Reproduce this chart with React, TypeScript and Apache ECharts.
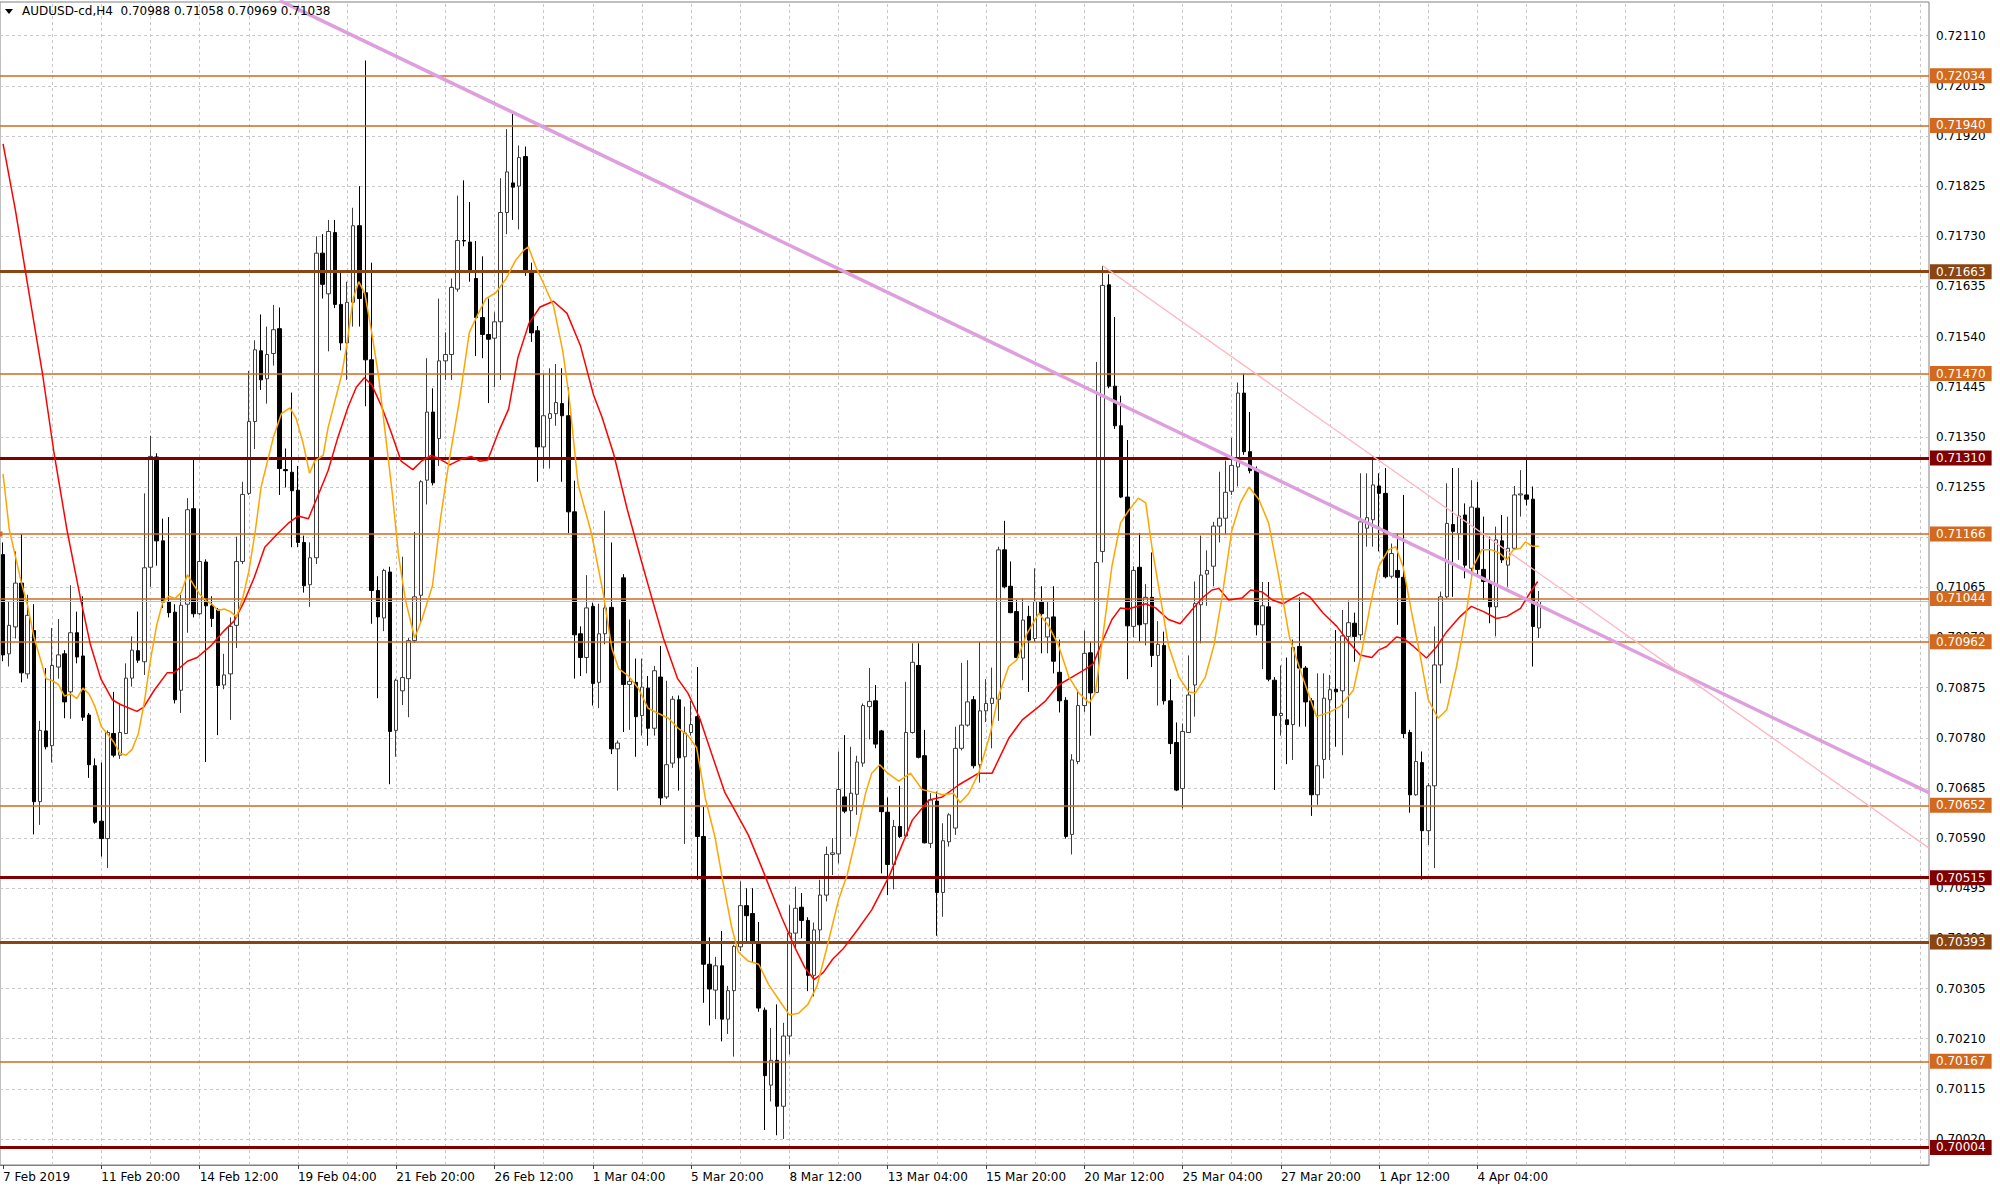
import React, { useEffect, useRef } from 'react';
import * as echarts from 'echarts';

const symbolName = 'AUDUSD-cd,H4';
const timeLabels = ['7 Feb 2019', '11 Feb 20:00', '14 Feb 12:00', '19 Feb 04:00', '21 Feb 20:00', '26 Feb 12:00', '1 Mar 04:00', '5 Mar 20:00', '8 Mar 12:00', '13 Mar 04:00', '15 Mar 20:00', '20 Mar 12:00', '25 Mar 04:00', '27 Mar 20:00', '1 Apr 12:00', '4 Apr 04:00'];

// [open, high, low, close]
const ohlc: number[][] = [
  [0.71127, 0.71150, 0.70925, 0.70937], [0.70939, 0.71038, 0.70915, 0.70993], [0.70990, 0.71133, 0.70968, 0.71073], [0.71073, 0.71166, 0.70885, 0.70903],
  [0.70901, 0.71051, 0.70892, 0.71012], [0.70983, 0.71033, 0.70597, 0.70659], [0.70659, 0.70812, 0.70615, 0.70794], [0.70793, 0.70912, 0.70758, 0.70763],
  [0.70765, 0.70988, 0.70733, 0.70917], [0.70914, 0.71005, 0.70892, 0.70937], [0.70939, 0.70946, 0.70817, 0.70848], [0.70867, 0.71069, 0.70816, 0.70979],
  [0.70979, 0.71019, 0.70921, 0.70933], [0.70935, 0.71048, 0.70812, 0.70819], [0.70823, 0.70827, 0.70704, 0.70729], [0.70727, 0.70741, 0.70617, 0.70620],
  [0.70622, 0.70733, 0.70555, 0.70589], [0.70589, 0.70794, 0.70533, 0.70790], [0.70788, 0.70867, 0.70743, 0.70747], [0.70747, 0.70845, 0.70740, 0.70790],
  [0.70788, 0.70921, 0.70787, 0.70893], [0.70893, 0.70972, 0.70877, 0.70946], [0.70945, 0.71019, 0.70922, 0.70927], [0.70924, 0.71243, 0.70899, 0.71102],
  [0.71103, 0.71352, 0.71066, 0.71313], [0.71312, 0.71319, 0.71106, 0.71153], [0.71153, 0.71195, 0.71026, 0.71037], [0.71038, 0.71198, 0.71008, 0.71017],
  [0.71018, 0.71033, 0.70845, 0.70852], [0.70870, 0.71051, 0.70827, 0.71031], [0.71033, 0.71234, 0.70979, 0.71212], [0.71214, 0.71308, 0.71008, 0.71015],
  [0.71015, 0.71214, 0.71012, 0.71114], [0.71113, 0.71118, 0.70734, 0.71030], [0.71030, 0.71048, 0.70990, 0.71006], [0.71022, 0.71026, 0.70785, 0.70879],
  [0.70880, 0.70939, 0.70872, 0.70899], [0.70901, 0.71008, 0.70814, 0.70991], [0.70993, 0.71161, 0.70950, 0.71114], [0.71114, 0.71265, 0.71109, 0.71241],
  [0.71243, 0.71475, 0.71240, 0.71379], [0.71379, 0.71533, 0.71327, 0.71515], [0.71513, 0.71582, 0.71439, 0.71458], [0.71460, 0.71559, 0.71413, 0.71506],
  [0.71508, 0.71600, 0.71485, 0.71553], [0.71555, 0.71595, 0.71240, 0.71290], [0.71288, 0.71328, 0.71254, 0.71286], [0.71283, 0.71434, 0.71141, 0.71248],
  [0.71249, 0.71295, 0.71141, 0.71150], [0.71150, 0.71163, 0.71055, 0.71068], [0.71070, 0.71150, 0.71028, 0.71121], [0.71121, 0.71730, 0.71109, 0.71698],
  [0.71698, 0.71734, 0.71612, 0.71639], [0.71621, 0.71761, 0.71512, 0.71739], [0.71737, 0.71761, 0.71594, 0.71601], [0.71601, 0.71666, 0.71514, 0.71528],
  [0.71528, 0.71644, 0.71458, 0.71605], [0.71605, 0.71784, 0.71559, 0.71750], [0.71750, 0.71825, 0.71559, 0.71612], [0.71623, 0.72063, 0.71408, 0.71496],
  [0.71496, 0.71680, 0.70996, 0.71059], [0.71059, 0.71086, 0.70855, 0.71009], [0.71007, 0.71100, 0.70982, 0.71097], [0.71094, 0.71104, 0.70692, 0.70792],
  [0.70794, 0.70892, 0.70744, 0.70889], [0.70869, 0.71123, 0.70842, 0.70894], [0.70892, 0.70969, 0.70819, 0.70964], [0.70964, 0.71170, 0.70960, 0.71047],
  [0.71050, 0.71268, 0.71000, 0.71265], [0.71268, 0.71499, 0.71222, 0.71397], [0.71397, 0.71442, 0.71258, 0.71263], [0.71347, 0.71612, 0.71295, 0.71494],
  [0.71494, 0.71548, 0.71458, 0.71506], [0.71506, 0.71650, 0.71458, 0.71633], [0.71630, 0.71807, 0.71625, 0.71722], [0.71722, 0.71836, 0.71711, 0.71721],
  [0.71719, 0.71795, 0.71644, 0.71666], [0.71650, 0.71721, 0.71503, 0.71576], [0.71576, 0.71692, 0.71499, 0.71544], [0.71544, 0.71612, 0.71414, 0.71535],
  [0.71537, 0.71586, 0.71444, 0.71568], [0.71568, 0.71840, 0.71458, 0.71775], [0.71775, 0.71933, 0.71734, 0.71852], [0.71831, 0.71965, 0.71761, 0.71823],
  [0.71825, 0.71902, 0.71743, 0.71879], [0.71881, 0.71900, 0.71655, 0.71665], [0.71665, 0.71680, 0.71530, 0.71547], [0.71551, 0.71560, 0.71265, 0.71331],
  [0.71331, 0.71470, 0.71290, 0.71390], [0.71385, 0.71480, 0.71290, 0.71394], [0.71394, 0.71488, 0.71371, 0.71415], [0.71413, 0.71480, 0.71265, 0.71390],
  [0.71390, 0.71444, 0.71168, 0.71208], [0.71208, 0.71267, 0.70892, 0.70975], [0.70977, 0.70991, 0.70897, 0.70932], [0.70932, 0.71088, 0.70902, 0.71026],
  [0.71029, 0.71036, 0.70841, 0.70883], [0.70885, 0.71034, 0.70836, 0.70977], [0.70977, 0.71210, 0.70957, 0.71026], [0.71027, 0.71150, 0.70749, 0.70759],
  [0.70759, 0.70775, 0.70680, 0.70770], [0.71083, 0.71090, 0.70791, 0.70881], [0.70881, 0.71004, 0.70795, 0.70887], [0.70885, 0.70930, 0.70744, 0.70820],
  [0.70822, 0.70930, 0.70784, 0.70876], [0.70874, 0.70897, 0.70765, 0.70798], [0.70798, 0.70916, 0.70784, 0.70907], [0.70895, 0.70954, 0.70652, 0.70666],
  [0.70668, 0.70888, 0.70664, 0.70729], [0.70732, 0.70859, 0.70723, 0.70853], [0.70852, 0.70860, 0.70680, 0.70742], [0.70744, 0.70839, 0.70579, 0.70789],
  [0.70790, 0.70850, 0.70784, 0.70805], [0.70820, 0.70914, 0.70511, 0.70593], [0.70593, 0.70649, 0.70278, 0.70351], [0.70351, 0.70402, 0.70235, 0.70304],
  [0.70302, 0.70365, 0.70247, 0.70348], [0.70348, 0.70414, 0.70205, 0.70247], [0.70247, 0.70310, 0.70219, 0.70301], [0.70301, 0.70388, 0.70176, 0.70385],
  [0.70384, 0.70508, 0.70376, 0.70462], [0.70462, 0.70495, 0.70395, 0.70443], [0.70447, 0.70495, 0.70355, 0.70395], [0.70393, 0.70431, 0.70261, 0.70268],
  [0.70264, 0.70269, 0.70037, 0.70140], [0.70122, 0.70230, 0.70091, 0.70169], [0.70169, 0.70275, 0.70027, 0.70082], [0.70082, 0.70240, 0.70020, 0.70215],
  [0.70215, 0.70463, 0.70180, 0.70410], [0.70410, 0.70498, 0.70380, 0.70457], [0.70459, 0.70486, 0.70400, 0.70434], [0.70434, 0.70440, 0.70300, 0.70330],
  [0.70330, 0.70430, 0.70290, 0.70416], [0.70416, 0.70511, 0.70395, 0.70482], [0.70482, 0.70574, 0.70470, 0.70559], [0.70559, 0.70590, 0.70520, 0.70562],
  [0.70560, 0.70754, 0.70542, 0.70682], [0.70668, 0.70785, 0.70637, 0.70641], [0.70642, 0.70763, 0.70593, 0.70675], [0.70673, 0.70746, 0.70634, 0.70734],
  [0.70732, 0.70845, 0.70725, 0.70841], [0.70839, 0.70912, 0.70777, 0.70849], [0.70850, 0.70880, 0.70760, 0.70768], [0.70793, 0.70795, 0.70523, 0.70640],
  [0.70639, 0.70667, 0.70482, 0.70540], [0.70540, 0.70624, 0.70493, 0.70612], [0.70612, 0.70689, 0.70590, 0.70593], [0.70594, 0.70886, 0.70593, 0.70790],
  [0.70790, 0.70959, 0.70788, 0.70923], [0.70917, 0.70959, 0.70741, 0.70743], [0.70746, 0.70795, 0.70580, 0.70581], [0.70580, 0.70675, 0.70571, 0.70662],
  [0.70660, 0.70678, 0.70405, 0.70487], [0.70487, 0.70618, 0.70441, 0.70585], [0.70583, 0.70637, 0.70574, 0.70634], [0.70609, 0.70801, 0.70596, 0.70760],
  [0.70760, 0.70922, 0.70756, 0.70804], [0.70804, 0.70927, 0.70801, 0.70848], [0.70852, 0.70859, 0.70722, 0.70727], [0.70729, 0.70962, 0.70695, 0.70831],
  [0.70831, 0.70891, 0.70810, 0.70845], [0.70845, 0.70913, 0.70760, 0.70855], [0.70853, 0.71142, 0.70812, 0.71136], [0.71136, 0.71191, 0.71063, 0.71066],
  [0.71067, 0.71114, 0.71016, 0.71017], [0.71019, 0.71041, 0.70931, 0.70932], [0.70931, 0.71044, 0.70889, 0.71003], [0.71010, 0.71030, 0.70867, 0.70965],
  [0.70968, 0.71101, 0.70962, 0.71038], [0.71037, 0.71067, 0.70940, 0.71015], [0.70971, 0.71037, 0.70940, 0.71007], [0.71009, 0.71067, 0.70902, 0.70925],
  [0.70904, 0.70966, 0.70828, 0.70850], [0.70851, 0.70857, 0.70589, 0.70593], [0.70597, 0.70749, 0.70559, 0.70738], [0.70735, 0.70871, 0.70730, 0.70841],
  [0.70841, 0.70983, 0.70829, 0.70940], [0.70941, 0.70962, 0.70784, 0.70865], [0.70866, 0.71492, 0.70865, 0.71112], [0.71133, 0.71674, 0.71112, 0.71637],
  [0.71638, 0.71658, 0.71442, 0.71446], [0.71446, 0.71577, 0.71365, 0.71371], [0.71371, 0.71428, 0.71234, 0.71236], [0.71236, 0.71344, 0.70891, 0.70992],
  [0.70991, 0.71105, 0.70970, 0.71097], [0.71103, 0.71168, 0.70962, 0.70994], [0.70996, 0.71071, 0.70955, 0.71046], [0.71046, 0.71131, 0.70914, 0.70936],
  [0.70936, 0.71001, 0.70841, 0.70957], [0.70955, 0.70981, 0.70843, 0.70850], [0.70850, 0.70891, 0.70749, 0.70769], [0.70771, 0.70809, 0.70679, 0.70681],
  [0.70684, 0.70807, 0.70646, 0.70792], [0.70790, 0.70936, 0.70789, 0.70861], [0.70880, 0.71076, 0.70820, 0.71034], [0.71032, 0.71163, 0.70959, 0.71088],
  [0.71090, 0.71135, 0.71030, 0.71097], [0.71105, 0.71189, 0.71067, 0.71181], [0.71181, 0.71284, 0.71150, 0.71196], [0.71196, 0.71305, 0.71165, 0.71245],
  [0.71247, 0.71348, 0.71240, 0.71296], [0.71293, 0.71453, 0.71256, 0.71433], [0.71433, 0.71470, 0.71316, 0.71322], [0.71322, 0.71397, 0.71281, 0.71286],
  [0.71288, 0.71294, 0.70974, 0.70994], [0.70994, 0.71075, 0.70910, 0.71030], [0.71028, 0.71075, 0.70887, 0.70891], [0.70889, 0.70895, 0.70681, 0.70822],
  [0.70822, 0.70917, 0.70784, 0.70826], [0.70814, 0.70932, 0.70730, 0.70805], [0.70805, 0.70966, 0.70738, 0.70951], [0.70953, 0.71046, 0.70801, 0.70912],
  [0.70912, 0.70916, 0.70801, 0.70848], [0.70850, 0.70855, 0.70632, 0.70672], [0.70672, 0.70902, 0.70653, 0.70727], [0.70739, 0.70902, 0.70703, 0.70855],
  [0.70852, 0.70899, 0.70738, 0.70871], [0.70872, 0.70984, 0.70763, 0.70867], [0.70869, 0.71022, 0.70747, 0.70973], [0.70972, 0.71040, 0.70817, 0.70998],
  [0.70997, 0.71017, 0.70924, 0.70972], [0.70975, 0.71281, 0.70965, 0.71189], [0.71177, 0.71281, 0.71142, 0.71197], [0.71193, 0.71313, 0.71142, 0.71259],
  [0.71257, 0.71281, 0.71133, 0.71243], [0.71243, 0.71291, 0.71082, 0.71085], [0.71086, 0.71148, 0.71082, 0.71129], [0.71097, 0.71167, 0.70994, 0.71084],
  [0.71084, 0.71240, 0.70779, 0.70788], [0.70790, 0.70795, 0.70638, 0.70672], [0.70672, 0.70867, 0.70670, 0.70735], [0.70733, 0.70754, 0.70511, 0.70604],
  [0.70604, 0.70694, 0.70577, 0.70689], [0.70689, 0.70991, 0.70533, 0.70918], [0.70918, 0.71057, 0.70883, 0.71047], [0.71047, 0.71262, 0.71044, 0.71186],
  [0.71184, 0.71291, 0.71047, 0.71171], [0.71167, 0.71291, 0.71117, 0.71200], [0.71202, 0.71224, 0.71082, 0.71107], [0.71101, 0.71268, 0.71085, 0.71217],
  [0.71215, 0.71265, 0.71085, 0.71099], [0.71099, 0.71199, 0.71041, 0.71076], [0.71076, 0.71161, 0.70997, 0.71028], [0.71028, 0.71180, 0.70972, 0.71155],
  [0.71153, 0.71202, 0.71111, 0.71117], [0.71107, 0.71199, 0.71066, 0.71139], [0.71139, 0.71257, 0.71136, 0.71240], [0.71240, 0.71287, 0.71199, 0.71242],
  [0.71240, 0.71309, 0.71220, 0.71232], [0.71232, 0.71256, 0.70915, 0.70991], [0.70988, 0.71058, 0.70969, 0.71038],
];

// fast moving average (orange), [bar index, price]
const maFast: number[][] = [
  [0, 0.71280], [1, 0.71175], [2, 0.71124], [3, 0.71073], [4, 0.71030], [5, 0.70972], [6, 0.70932], [7, 0.70892], [8, 0.70888], [9, 0.70881],
  [10, 0.70859], [11, 0.70863], [12, 0.70854], [13, 0.70874], [14, 0.70863], [15, 0.70838], [16, 0.70801], [17, 0.70787], [18, 0.70772], [19, 0.70751],
  [20, 0.70747], [21, 0.70758], [22, 0.70787], [23, 0.70848], [24, 0.70928], [25, 0.70993], [26, 0.71037], [27, 0.71048], [28, 0.71044], [29, 0.71055],
  [30, 0.71089], [31, 0.71070], [32, 0.71052], [33, 0.71040], [34, 0.71033], [35, 0.71021], [36, 0.71024], [37, 0.71019], [38, 0.71009], [39, 0.71044],
  [40, 0.71095], [41, 0.71167], [42, 0.71255], [44, 0.71349], [45.3, 0.71394], [46.7, 0.71405], [47.7, 0.71385], [48.8, 0.71340], [49.9, 0.71281],
  [50.7, 0.71304], [52.1, 0.71315], [52.9, 0.71367], [54, 0.71417], [55.1, 0.71467], [55.9, 0.71521], [57, 0.71612], [57.9, 0.71644], [58.9, 0.71621],
  [60, 0.71548], [61.1, 0.71467], [62.2, 0.71358], [63.3, 0.71249], [64.4, 0.71123], [65.5, 0.71041], [67, 0.70969], [68.2, 0.71005], [69.9, 0.71068],
  [71.2, 0.71195], [72.6, 0.71304], [74.2, 0.71413], [75.9, 0.71548], [77.2, 0.71580], [78.6, 0.71612], [80.2, 0.71623], [81.8, 0.71648], [83.4, 0.71684],
  [84.8, 0.71704], [85.5, 0.71710], [86.8, 0.71670], [88, 0.71640], [89.6, 0.71598], [91.1, 0.71513], [92.1, 0.71430], [93.6, 0.71260], [95.8, 0.71166],
  [97.7, 0.71053], [99.1, 0.70949], [100.2, 0.70911], [101.8, 0.70897], [103.4, 0.70874], [105, 0.70836], [106.7, 0.70826], [108.3, 0.70817],
  [109.9, 0.70798], [111.5, 0.70784], [112.9, 0.70761], [114.3, 0.70666], [115.9, 0.70591], [117.2, 0.70506], [118.6, 0.70421], [119.7, 0.70374],
  [121.3, 0.70357], [123, 0.70351], [124.6, 0.70313], [126.5, 0.70280], [128, 0.70255], [129.5, 0.70258], [131, 0.70275], [132.5, 0.70310],
  [134, 0.70378], [136, 0.70473], [137.4, 0.70520], [139, 0.70599], [140.4, 0.70675], [141.4, 0.70713], [142.7, 0.70729], [144, 0.70713],
  [145.8, 0.70698], [147.7, 0.70713], [149.6, 0.70682], [151, 0.70678], [152.9, 0.70672], [154.7, 0.70675], [155.8, 0.70657], [157.2, 0.70675],
  [158.8, 0.70713], [160.7, 0.70788], [162, 0.70858], [163.7, 0.70915], [165, 0.70927], [166.7, 0.70978], [168.6, 0.71016], [170.2, 0.70992],
  [171.8, 0.70955], [173.5, 0.70895], [175.1, 0.70865], [176.8, 0.70846], [177.8, 0.70865], [178.9, 0.70962], [180.5, 0.71105], [181.9, 0.71187],
  [183.2, 0.71210], [184.8, 0.71234], [186, 0.71225], [187, 0.71142], [188.4, 0.71045], [189.7, 0.70955], [191.4, 0.70895], [193, 0.70867],
  [194.1, 0.70865], [195.7, 0.70895], [197.1, 0.70955], [198.4, 0.71045], [200, 0.71172], [201.4, 0.71225], [202.8, 0.71255], [204.4, 0.71232],
  [206, 0.71187], [207.6, 0.71090], [209.4, 0.70970], [211.6, 0.70893], [213.8, 0.70820], [216, 0.70829], [217.6, 0.70839], [219.8, 0.70870],
  [221.1, 0.70940], [222.5, 0.71028], [223.9, 0.71104], [225.5, 0.71136], [226.7, 0.71142], [227.9, 0.71104], [229.3, 0.71016], [230.6, 0.70940],
  [232, 0.70852], [233.6, 0.70817], [235, 0.70833], [236.6, 0.70915], [238, 0.71003], [239.3, 0.71104], [240.7, 0.71136], [242.3, 0.71136],
  [243.7, 0.71129], [244.8, 0.71117], [245.8, 0.71136], [247, 0.71139], [247.8, 0.71151], [248.9, 0.71143], [250, 0.71143],
];

// slow moving average (red), [bar index, price]
const maSlow: number[][] = [
  [0, 0.71905], [2, 0.71780], [3.9, 0.71645], [6.4, 0.71471], [8.3, 0.71319], [10.4, 0.71174], [12.6, 0.71044], [14.2, 0.70957], [15.9, 0.70892],
  [17.8, 0.70852], [19.1, 0.70843], [21.8, 0.70830], [22.9, 0.70838], [24.6, 0.70870], [26.7, 0.70903], [27.8, 0.70903], [30, 0.70925], [31.6, 0.70932],
  [33.8, 0.70954], [36, 0.70983], [37.6, 0.71001], [39.2, 0.71037], [40.9, 0.71084], [42.6, 0.71141], [44.8, 0.71168], [46.4, 0.71186], [48, 0.71200],
  [49.7, 0.71195], [51.3, 0.71240], [52.9, 0.71286], [54.5, 0.71349], [56.2, 0.71408], [57.5, 0.71444], [58.8, 0.71462], [60, 0.71449], [61.6, 0.71408],
  [63.2, 0.71358], [64.8, 0.71304], [66.7, 0.71288], [68.1, 0.71304], [69.7, 0.71315], [71.1, 0.71308], [72.7, 0.71297], [74.6, 0.71308], [76.2, 0.71313],
  [77.6, 0.71304], [78.9, 0.71306], [80.6, 0.71358], [82.3, 0.71403], [83.8, 0.71500], [85.6, 0.71565], [87.4, 0.71596], [89.6, 0.71607], [91.8, 0.71584],
  [94, 0.71522], [96.1, 0.71430], [97.5, 0.71387], [99.4, 0.71317], [101.6, 0.71213], [103.8, 0.71119], [105.4, 0.71053], [107.5, 0.70968], [109.8, 0.70892],
  [111.5, 0.70864], [113.4, 0.70817], [115.3, 0.70751], [117.5, 0.70676], [119.1, 0.70643], [121.3, 0.70596], [123.5, 0.70534], [125.1, 0.70487],
  [126.8, 0.70438], [129, 0.70380], [130.5, 0.70345], [132, 0.70322], [133.5, 0.70335], [135, 0.70360], [136.8, 0.70381], [139, 0.70415], [141.4, 0.70454],
  [144.2, 0.70517], [148, 0.70624], [150.7, 0.70662], [152.9, 0.70668], [155.6, 0.70691], [158.8, 0.70713], [161, 0.70713], [163.7, 0.70779], [165.9, 0.70814],
  [168.6, 0.70839], [169.7, 0.70850], [171.8, 0.70880], [174, 0.70895], [176.2, 0.70910], [177.5, 0.70921], [178.9, 0.70962], [180.5, 0.71004], [181.9, 0.71026],
  [183.2, 0.71024], [186, 0.71034], [187.6, 0.71026], [189.7, 0.71004], [191.6, 0.70996], [193.5, 0.71022], [195.2, 0.71045], [196.8, 0.71060], [197.9, 0.71063],
  [199.5, 0.71041], [201.7, 0.71045], [203.1, 0.71060], [205, 0.71056], [206.6, 0.71041], [208.4, 0.71034], [210, 0.71045], [211.6, 0.71055], [212.7, 0.71047],
  [214.9, 0.71016], [217.1, 0.70991], [219.2, 0.70959], [220.9, 0.70937], [222.8, 0.70932], [223.9, 0.70946], [225.2, 0.70953], [226.8, 0.70971], [228, 0.70968],
  [229.6, 0.70953], [231.7, 0.70931], [233.4, 0.70953], [235, 0.70981], [237.2, 0.71010], [239, 0.71029], [241, 0.71019], [243.1, 0.71006], [244.8, 0.71010],
  [247, 0.71025], [248.3, 0.71050], [249.8, 0.71076],
];

const yTicks = [0.70020, 0.70115, 0.70210, 0.70305, 0.70400, 0.70495, 0.70590, 0.70685, 0.70780, 0.70875, 0.70970, 0.71065, 0.71160, 0.71255, 0.71350, 0.71445, 0.71540, 0.71635, 0.71730, 0.71825, 0.71920, 0.72015, 0.72110];
const levelPrices = [0.72034, 0.71940, 0.71663, 0.71470, 0.71310, 0.71166, 0.71044, 0.70962, 0.70652, 0.70515, 0.70393, 0.70167, 0.70004];
const levelKinds = ['minor', 'minor', 'brown', 'minor', 'major', 'minor', 'minor', 'minor', 'minor', 'major', 'brown', 'minor', 'major'];
const markedLevel = 0.71166;
const bidPrice = 0.71038;
const trendMain: number[][] = [[45, 0.72177], [313.5, 0.70676]];
const trendMinor: number[][] = [[179, 0.71674], [313.5, 0.70571]];

const SLOTS = 314;
const LABEL_EVERY = 16;
const GRID_EVERY = 8;
const Y_MIN = 0.699707;
const Y_MAX = 0.721738;
const FONT = 'DejaVu Sans';

const levelStyle: Record<string, { color: string; width: number }> = {
  minor: { color: '#D2691E', width: 1.5 },
  brown: { color: '#8B4513', width: 3 },
  major: { color: '#800000', width: 3 },
};

export default function App() {
  const ref = useRef<HTMLDivElement>(null);
  useEffect(() => {
    document.body.style.margin = '0';
    if (!ref.current) return;
    const chart = echarts.init(ref.current, undefined, { renderer: 'svg' });

    const categories = Array.from({ length: SLOTS }, (_, i) =>
      i % LABEL_EVERY === 0 && timeLabels[i / LABEL_EVERY] ? timeLabels[i / LABEL_EVERY] : '');
    const candleData = ohlc.map(([o, h, l, c]) => [o, c, l, h]);
    const last = ohlc[ohlc.length - 1];
    const header = `${symbolName}  ${last.map((v) => v.toFixed(5)).join(' ')}`;
    const vLines: number[] = [];
    for (let i = GRID_EVERY; i < SLOTS; i += GRID_EVERY) vLines.push(i);

    const gridDash = { color: '#c8c8c8', width: 1, type: [3, 3] as any };

    const option: any = {
      animation: false,
      backgroundColor: '#ffffff',
      textStyle: { fontFamily: FONT },
      grid: { left: 0, right: 71, top: 2, bottom: 26, show: true, borderColor: '#808080', borderWidth: 1, backgroundColor: '#ffffff' },
      xAxis: [
        {
          type: 'category', data: categories, boundaryGap: true,
          axisLine: { show: true, onZero: false, lineStyle: { color: '#808080' } },
          axisTick: { show: true, alignWithLabel: true, interval: (_i: number, v: string) => v !== '', length: 4, lineStyle: { color: '#404040' } },
          axisLabel: { interval: (_i: number, v: string) => v !== '', align: 'left', color: '#000', fontSize: 12, fontFamily: FONT, margin: 6 },
          splitLine: { show: false },
        },
        { type: 'value', min: -0.5, max: SLOTS - 0.5, show: false },
      ],
      yAxis: { type: 'value', min: Y_MIN, max: Y_MAX, show: false, scale: true, splitLine: { show: false } },
      graphic: [
        { type: 'polygon', shape: { points: [[5, 9], [13, 9], [9, 14]] }, style: { fill: '#000' }, z: 100 },
        { type: 'text', x: 22, y: 5, style: { text: header, fontSize: 12, fontFamily: FONT, fill: '#000' }, z: 100 },
      ],
      series: [
        {
          type: 'line', name: 'grid', xAxisIndex: 1, data: [], silent: true,
          markLine: {
            z: 1, silent: true, symbol: 'none', animation: false, precision: 6,
            lineStyle: gridDash,
            label: { show: false },
            data: [
              ...yTicks.map((v) => ({
                yAxis: v,
                label: { show: true, position: 'end', distance: 7, color: '#000', fontSize: 12, fontFamily: FONT, formatter: () => v.toFixed(5) },
              })),
              ...vLines.map((x) => ({ xAxis: x })),
            ],
          },
        },
        {
          type: 'candlestick', name: 'AUDUSD', xAxisIndex: 0, data: candleData, barWidth: 4, z: 2,
          itemStyle: { color: '#ffffff', color0: '#000000', borderColor: '#3c3c3c', borderColor0: '#000000', borderWidth: 1 },
        },
        {
          type: 'line', name: 'levels', xAxisIndex: 1, data: [], silent: true,
          markLine: {
            z: 3, silent: true, symbol: 'none', animation: false, precision: 6,
            data: [
              { yAxis: bidPrice, lineStyle: { color: '#c0c0c0', width: 1, type: 'solid' }, label: { show: false } },
              ...levelPrices.map((p, k) => {
                const st = levelStyle[levelKinds[k]];
                return {
                  yAxis: p,
                  symbol: p === markedLevel ? ['emptyRect', 'emptyRect'] : 'none',
                  symbolSize: 5,
                  lineStyle: { color: st.color, width: st.width, type: 'solid' },
                  label: {
                    show: true, position: 'end', distance: 1, color: '#ffffff', fontSize: 12, fontFamily: FONT,
                    backgroundColor: st.color, padding: [2, 6, 1, 6], formatter: () => p.toFixed(5),
                  },
                };
              }),
            ],
          },
        },
        {
          type: 'line', name: 'MA slow', xAxisIndex: 1, data: maSlow, showSymbol: false, z: 4, silent: true,
          lineStyle: { color: '#ff0000', width: 1.5 },
        },
        {
          type: 'line', name: 'MA fast', xAxisIndex: 1, data: maFast, showSymbol: false, z: 4, silent: true,
          lineStyle: { color: '#ffa500', width: 1.5 },
        },
        {
          type: 'line', name: 'trend', xAxisIndex: 1, data: trendMain, showSymbol: false, z: 5, silent: true,
          lineStyle: { color: '#dda0dd', width: 3.5 },
        },
        {
          type: 'line', name: 'trend2', xAxisIndex: 1, data: trendMinor, showSymbol: false, z: 5, silent: true,
          lineStyle: { color: '#ffb6c1', width: 1.3 },
        },
      ],
    };
    chart.setOption(option);
    return () => chart.dispose();
  }, []);
  return <div ref={ref} style={{ width: 2000, height: 1191 }} />;
}
